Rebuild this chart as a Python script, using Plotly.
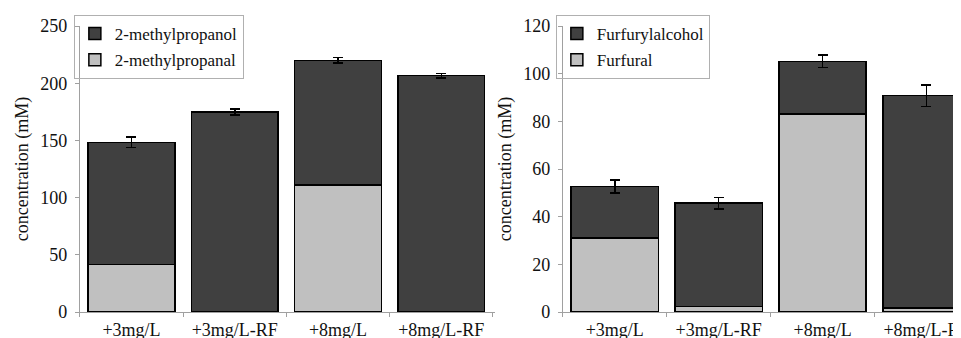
import plotly.graph_objects as go

categories = ["+3mg/L", "+3mg/L-RF", "+8mg/L", "+8mg/L-RF"]

# Left panel
methylpropanal = [41.4, 0.0, 111.0, 0.0]
methylpropanol_total = [148.3, 174.8, 220.0, 206.6]
methylpropanol_err = [4.7, 2.5, 2.5, 2.0]
methylpropanol = [t - b for t, b in zip(methylpropanol_total, methylpropanal)]

# Right panel
furfural = [31.0, 2.4, 83.1, 1.7]
furfurylalcohol_total = [52.7, 45.7, 105.2, 90.8]
furfurylalcohol_err = [2.7, 2.4, 2.7, 4.5]
furfurylalcohol = [t - b for t, b in zip(furfurylalcohol_total, furfural)]

left_ticks = [0, 50, 100, 150, 200, 250]
right_ticks = [0, 20, 40, 60, 80, 100, 120]

DARK = "#404040"
LIGHT = "#c0c0c0"
FONT = "'Liberation Serif', 'Times New Roman', Times, serif"
W, H = 961, 338
PH = 286

fig = go.Figure()
bar_common = dict(width=0.84, marker_line_color="#000000", marker_line_width=1.5)
err_common = dict(type="data", visible=True, color="#000000", thickness=1.5, width=5)

fig.add_trace(go.Bar(x=categories, y=methylpropanal, name="2-methylpropanal",
                     marker_color=LIGHT, xaxis="x", yaxis="y", legend="legend",
                     legendgroup="a2", legendrank=2, **bar_common))
fig.add_trace(go.Bar(x=categories, y=methylpropanol, name="2-methylpropanol",
                     marker_color=DARK, xaxis="x", yaxis="y", legend="legend",
                     legendgroup="a1", legendrank=1,
                     error_y=dict(array=methylpropanol_err, **err_common), **bar_common))
fig.add_trace(go.Bar(x=categories, y=furfural, name="Furfural",
                     marker_color=LIGHT, xaxis="x2", yaxis="y2", legend="legend2",
                     legendgroup="b2", legendrank=2, **bar_common))
fig.add_trace(go.Bar(x=categories, y=furfurylalcohol, name="Furfurylalcohol",
                     marker_color=DARK, xaxis="x2", yaxis="y2", legend="legend2",
                     legendgroup="b1", legendrank=1,
                     error_y=dict(array=furfurylalcohol_err, **err_common), **bar_common))

axis_line = dict(showline=True, linecolor="#a0a0a0", linewidth=1, showgrid=False,
                 zeroline=False, ticks="outside", tickcolor="#a0a0a0", ticklen=4)
xfont = dict(family=FONT, size=18, color="#111111")
yfont = dict(family=FONT, size=18, color="#111111")
title_font = dict(family=FONT, size=18, color="#111111")

legend_common = dict(bgcolor="rgba(255,255,255,0)", bordercolor="#b0b0b0", borderwidth=1,
                     font=dict(family=FONT, size=17, color="#111111"),
                     traceorder="grouped", tracegroupgap=1,
                     xanchor="left", yanchor="top", itemwidth=30)

fig.update_layout(
    width=W, height=H,
    barmode="stack",
    plot_bgcolor="white", paper_bgcolor="white",
    margin=dict(l=0, r=0, t=18, b=34),
    font=dict(family=FONT, color="#111111"),
    xaxis=dict(domain=[72 / W, 488 / W], range=[-0.5, 3.52], anchor="y",
               tickson="boundaries", ticklabelstandoff=1, tickfont=xfont, **axis_line),
    yaxis=dict(domain=[0, 1], range=[0, 250], tickvals=left_ticks, anchor="x",
               ticklabelstandoff=4, tickfont=yfont,
               title=dict(text="concentration (mM)", font=title_font, standoff=6),
               **axis_line),
    xaxis2=dict(domain=[556 / W, 1.0], range=[-0.5, 3.39], anchor="y2",
                tickson="boundaries", ticklabelstandoff=1, tickfont=xfont, **axis_line),
    yaxis2=dict(domain=[0, 1], range=[0, 120], tickvals=right_ticks, anchor="x2",
                ticklabelstandoff=4, tickfont=yfont,
                title=dict(text="concentration (mM)", font=title_font, standoff=6),
                **axis_line),
    legend=dict(x=66 / W, y=1.0 + 11 / PH, **legend_common),
    legend2=dict(x=549 / W, y=1.0 + 11 / PH, **legend_common),
)

fig.write_html("out.html")
